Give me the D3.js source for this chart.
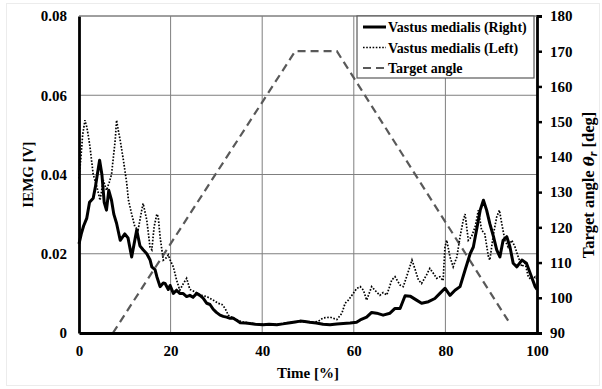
<!DOCTYPE html>
<html>
<head>
<meta charset="utf-8">
<script src="https://cdn.jsdelivr.net/npm/d3@7"></script>
<style>
  body { margin: 0; background: #fff; }
  svg { font-family: "Liberation Serif", serif; font-weight: bold; }
</style>
</head>
<body>
<svg id="chart" width="602" height="389"></svg>
<script>
// time [%] and IEMG [V]
const rightT = [0,0.5,1,1.7,2.3,3.1,3.6,4,4.5,5,5.5,6,6.5,7.1,7.6,8.2,9,10,10.7,11.5,12.6,13.3,14,14.8,15.5,15.9,16.6,17,17.7,18.4,18.8,19.5,19.9,20.6,21.3,22,22.7,23.5,24.2,24.9,25.7,26.4,27.1,27.9,28.6,29.3,30,30.8,31.5,32.2,33,33.6,34.4,35.2,36.3,37.3,38.5,40.2,41.5,43.2,44.5,46.1,47.2,48.3,49.3,50.4,51.8,53.3,54.8,56.3,57.7,59.2,60.6,61.4,62.8,63.9,65,66.4,67.9,69,70.1,71.2,72.3,73.7,74.8,76.3,77.7,78.8,79.9,81,82.1,83.2,84.3,85.4,86.1,86.8,87.6,88.3,89,89.7,90.5,91.2,91.9,92.6,93.4,94.1,94.8,95.6,96.7,97.7,98.8,99.6,100];
const rightV = [0.0225,0.025,0.027,0.029,0.033,0.034,0.037,0.040,0.0436,0.040,0.033,0.031,0.036,0.0335,0.030,0.0277,0.0234,0.025,0.024,0.0192,0.026,0.022,0.021,0.020,0.0185,0.0167,0.016,0.0142,0.0117,0.0126,0.0125,0.011,0.012,0.010,0.0108,0.010,0.0100,0.0092,0.0095,0.009,0.0100,0.0095,0.0088,0.0075,0.0072,0.006,0.0052,0.0045,0.0042,0.004,0.0037,0.0038,0.0032,0.0026,0.0025,0.0024,0.0022,0.0021,0.0022,0.0021,0.0023,0.0026,0.0028,0.003,0.0029,0.0027,0.0025,0.0022,0.0021,0.0023,0.0024,0.0025,0.0027,0.0033,0.0040,0.0052,0.0050,0.0045,0.005,0.0062,0.0062,0.0094,0.0093,0.0083,0.0075,0.0079,0.0087,0.0100,0.0113,0.0095,0.0108,0.0117,0.0159,0.020,0.0217,0.026,0.031,0.0335,0.031,0.0276,0.0243,0.021,0.0192,0.0234,0.0243,0.0217,0.0176,0.0167,0.0184,0.0176,0.0142,0.0117,0.011];

const leftT = [0,0.4,0.8,1.3,1.7,2,2.4,3.1,3.9,4.6,5.3,6,6.6,7.1,7.9,8.2,8.6,9,9.7,10.4,10.8,11.5,12.2,12.9,13.7,14,14.8,15.5,15.9,16.4,17,17.3,17.7,18.4,19.1,19.5,19.9,20.6,21.3,22,22.8,23.5,24.2,25.3,26.4,27.9,29.3,30.4,31.2,31.9,32.6,33.6,34.4,35.5,37,38.5,40.2,42,43.5,45,46.5,48,49.5,51,52.3,53.3,54.8,56.3,57.4,58.1,58.8,59.9,60.6,61.4,62.1,62.8,63.9,64.6,65.7,66.4,67.2,68.3,69,70.1,70.8,71.9,72.7,73.4,74.1,74.8,75.9,76.6,77.4,78.1,78.8,79.5,79.9,80.3,81,81.7,82.5,83.2,83.9,84.3,85,85.7,86.5,87.2,87.9,88.6,89.4,89.7,90.5,91.2,91.8,92.3,93,93.7,94.5,95.2,95.9,96.7,97.4,98.1,98.8,99.6,100];
const leftV = [0.039,0.044,0.050,0.0537,0.052,0.050,0.047,0.040,0.0369,0.0335,0.0386,0.036,0.038,0.040,0.0486,0.0537,0.051,0.0486,0.0436,0.038,0.0335,0.030,0.0268,0.026,0.031,0.0327,0.0285,0.0217,0.021,0.0268,0.030,0.0293,0.0243,0.0184,0.019,0.0197,0.0184,0.0167,0.0134,0.0108,0.0125,0.0138,0.011,0.0104,0.0096,0.0092,0.0083,0.0075,0.0072,0.0062,0.0045,0.0038,0.0034,0.0028,0.0026,0.0023,0.0022,0.0021,0.0022,0.0025,0.0027,0.0029,0.0028,0.0026,0.0030,0.0038,0.0040,0.0034,0.005,0.0075,0.0083,0.010,0.0112,0.0117,0.0108,0.0083,0.0117,0.0108,0.0095,0.0102,0.0096,0.0134,0.0142,0.0121,0.0117,0.0155,0.0184,0.016,0.0134,0.0125,0.0147,0.0163,0.015,0.0138,0.0142,0.0132,0.0217,0.0234,0.0192,0.0167,0.0192,0.0243,0.0285,0.030,0.0234,0.0243,0.0268,0.031,0.026,0.025,0.0192,0.0184,0.025,0.0293,0.031,0.0276,0.0234,0.0217,0.0234,0.0217,0.0192,0.0167,0.0176,0.0142,0.0134,0.0142,0.0135];

// target angle [deg]
const targetT = [7.4, 47.2, 56.3, 93.7];
const targetA = [90, 170, 170, 93.5];

const xTicks = [0, 20, 40, 60, 80, 100];
const yTicks = [0, 0.02, 0.04, 0.06, 0.08];
const y2Ticks = [90, 100, 110, 120, 130, 140, 150, 160, 170, 180];
const legendNames = ["Vastus medialis (Right)", "Vastus medialis (Left)", "Target angle"];

const svg = d3.select("#chart");
const margin = { left: 79, top: 16, right: 65, bottom: 56 };
const width = 602 - margin.left - margin.right,
    height = 389 - margin.top - margin.bottom;

svg.append("rect")
    .attr("x", 6.5).attr("y", 3.5).attr("width", 593).attr("height", 382)
    .attr("fill", "none").attr("stroke", "#ececec");

const g = svg.append("g").attr("transform", `translate(${margin.left},${margin.top})`);

const x = d3.scaleLinear().domain([0, 100]).range([0, width]);
const y = d3.scaleLinear().domain([0, 0.08]).range([height, 0]);
const y2 = d3.scaleLinear().domain([90, 180]).range([height, 0]);

// grid
g.append("g")
    .selectAll("line.v")
    .data(xTicks.filter(d => d > 0 && d < 100))
    .enter().append("line")
    .attr("x1", d => x(d)).attr("x2", d => x(d))
    .attr("y1", 0).attr("y2", height)
    .attr("stroke", "#7f7f7f").attr("stroke-width", 1);
g.append("g")
    .selectAll("line.h")
    .data(yTicks.filter(d => d > 0))
    .enter().append("line")
    .attr("x1", 0).attr("x2", width)
    .attr("y1", d => y(d)).attr("y2", d => y(d))
    .attr("stroke", "#7f7f7f").attr("stroke-width", 1);

// series
const rightData = rightT.map((t, i) => [t, rightV[i]]);
const leftData = leftT.map((t, i) => [t, leftV[i]]);
const targetData = targetT.map((t, i) => [t, targetA[i]]);

const lineV = d3.line().x(d => x(d[0])).y(d => y(d[1]));
const lineA = d3.line().x(d => x(d[0])).y(d => y2(d[1]));

g.append("path")
    .attr("d", lineA(targetData))
    .attr("fill", "none").attr("stroke", "#595959")
    .attr("stroke-width", 2.2).attr("stroke-dasharray", "8,5");

g.append("path")
    .attr("d", lineV(leftData))
    .attr("fill", "none").attr("stroke", "#000")
    .attr("stroke-width", 1.7).attr("stroke-dasharray", "1.6,1.6");

g.append("path")
    .attr("d", lineV(rightData))
    .attr("fill", "none").attr("stroke", "#000")
    .attr("stroke-width", 3).attr("stroke-linejoin", "round");

// axes
const xAxis = g.append("g")
    .attr("transform", `translate(0,${height})`)
    .call(d3.axisBottom(x).tickValues(xTicks).tickSize(0).tickPadding(12));
const yAxis = g.append("g")
    .call(d3.axisLeft(y).tickValues(yTicks).tickSize(0).tickPadding(12)
        .tickFormat(d => d === 0 ? "0" : d3.format(".2f")(d)));
const y2Axis = g.append("g")
    .attr("transform", `translate(${width},0)`)
    .call(d3.axisRight(y2).tickValues(y2Ticks).tickSize(5).tickPadding(8));

[xAxis, yAxis, y2Axis].forEach(a => {
    a.selectAll("text").attr("font-size", 15).attr("font-family", "Liberation Serif")
        .attr("font-weight", "bold").attr("fill", "#000");
    a.select(".domain").attr("stroke", "#000").attr("stroke-width", 2.8);
    a.selectAll(".tick line").attr("stroke", "#000").attr("stroke-width", 2.5);
});
// top frame
g.append("line").attr("x1", 0).attr("x2", width).attr("y1", 0).attr("y2", 0)
    .attr("stroke", "#7f7f7f").attr("stroke-width", 1);

// titles
svg.append("text")
    .attr("x", margin.left + width / 2).attr("y", 378)
    .attr("text-anchor", "middle").attr("font-size", 15)
    .text("Time [%]");
svg.append("text")
    .attr("transform", `translate(33,${margin.top + height / 2}) rotate(-90)`)
    .attr("text-anchor", "middle").attr("font-size", 15)
    .text("IEMG [V]");
const t2 = svg.append("text")
    .attr("transform", "translate(594,185) rotate(-90)")
    .attr("text-anchor", "middle").attr("font-size", 16.5);
t2.append("tspan").text("Target angle ");
t2.append("tspan").attr("font-style", "italic").attr("font-family", "DejaVu Serif").attr("font-size", 15).text("θ");
t2.append("tspan").attr("font-style", "italic").attr("font-size", 12).attr("dy", 3).text("r");
t2.append("tspan").attr("dy", -3).text(" [deg]");

// legend
const lg = g.append("g").attr("transform", `translate(${x(60.7)},0)`);
lg.append("rect")
    .attr("x", 0).attr("y", 0).attr("width", 177).attr("height", 62)
    .attr("fill", "#fff").attr("stroke", "#595959").attr("stroke-width", 1.2);
const styles = [
    { w: 3, dash: null, c: "#000" },
    { w: 1.7, dash: "1.6,1.6", c: "#000" },
    { w: 2.2, dash: "8,5", c: "#595959" }
];
legendNames.forEach((name, i) => {
    const yy = 11 + i * 20.5;
    lg.append("line")
        .attr("x1", 6).attr("x2", 29).attr("y1", yy).attr("y2", yy)
        .attr("stroke", styles[i].c).attr("stroke-width", styles[i].w)
        .attr("stroke-dasharray", styles[i].dash);
    lg.append("text")
        .attr("x", 31).attr("y", yy + 5)
        .attr("font-size", 14).text(name);
});
</script>
</body>
</html>
